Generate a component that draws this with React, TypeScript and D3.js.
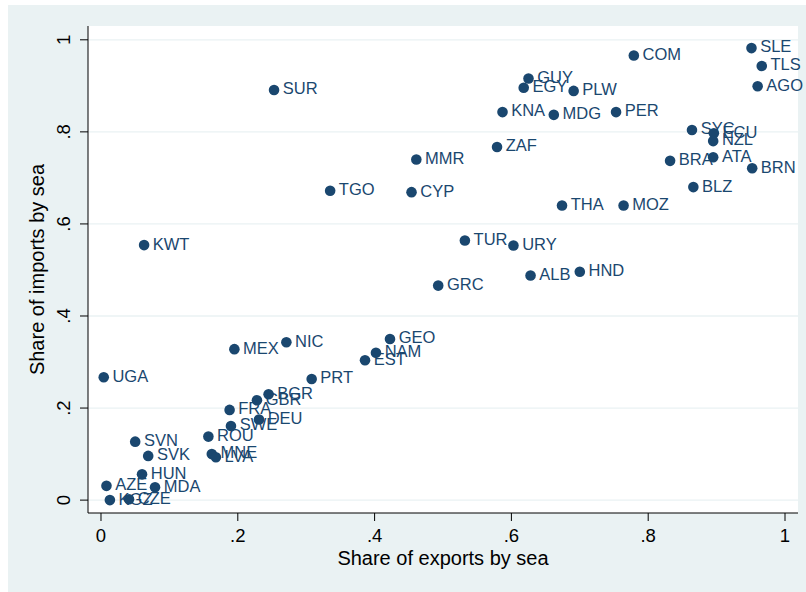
import React from "react";
import * as d3 from "d3";

const countries = ["SUR","TGO","KWT","MMR","CYP","COM","SLE","TLS","AGO","GUY","EGY","PLW","KNA","MDG","PER","SYC","ECU","NZL","ZAF","BRA","ATA","BRN","BLZ","THA","MOZ","TUR","URY","ALB","HND","GRC","UGA","MEX","NIC","PRT","BGR","GBR","FRA","DEU","SWE","ROU","SVN","SVK","MNE","LVA","HUN","AZE","MDA","KGZ","CZE","GEO","NAM","EST"];
const exportShare = [0.253,0.335,0.063,0.461,0.454,0.779,0.951,0.966,0.960,0.625,0.618,0.691,0.587,0.662,0.753,0.864,0.896,0.895,0.579,0.832,0.895,0.952,0.866,0.674,0.764,0.532,0.603,0.628,0.700,0.493,0.004,0.195,0.271,0.308,0.245,0.228,0.188,0.231,0.190,0.157,0.050,0.069,0.162,0.168,0.060,0.008,0.079,0.013,0.041,0.4225,0.402,0.386];
const importShare = [0.891,0.672,0.554,0.740,0.669,0.966,0.982,0.943,0.899,0.916,0.896,0.889,0.843,0.837,0.843,0.804,0.797,0.780,0.767,0.737,0.745,0.721,0.680,0.640,0.640,0.564,0.553,0.488,0.496,0.466,0.267,0.328,0.343,0.263,0.230,0.217,0.196,0.175,0.161,0.138,0.127,0.096,0.100,0.093,0.056,0.031,0.028,0.000,0.002,0.350,0.320,0.304];
const tickValues = [0, 0.2, 0.4, 0.6, 0.8, 1];
const xTitle = "Share of exports by sea";
const yTitle = "Share of imports by sea";

const fmt = (v: number) => (v === 0 ? "0" : v === 1 ? "1" : "." + Math.round(v * 10));

export default function App() {
  const W = 806, H = 592;
  const L = 88, R = 798, T = 26, B = 513;
  const x = d3.scaleLinear().domain([-0.019, 1.019]).range([L, R]);
  const y = d3.scaleLinear().domain([-0.028, 1.030]).range([B, T]);
  const col = "#1a476f";
  const font = "'Liberation Sans', Arial, sans-serif";
  return (
    <svg width={W} height={H} style={{ position: "absolute", left: 0, top: 0 }} fontFamily={font}>
      <rect x={0} y={0} width={W} height={H} fill="#ffffff" />
      <rect x={8} y={5} width={W - 8} height={H - 5} fill="#eaf2f3" />
      <rect x={L} y={T} width={R - L} height={B - T} fill="#ffffff" />
      {tickValues.map((t) => (
        <line key={"g" + t} x1={L} x2={R} y1={y(t)} y2={y(t)} stroke="#eaf2f3" strokeWidth={1.3} />
      ))}
      <line x1={L} x2={L} y1={T} y2={B} stroke="#000" strokeWidth={1} />
      <line x1={L} x2={R} y1={B} y2={B} stroke="#000" strokeWidth={1} />
      {tickValues.map((t) => (
        <g key={"yt" + t}>
          <line x1={L - 8} x2={L} y1={y(t)} y2={y(t)} stroke="#000" strokeWidth={1} />
          <text
            transform={`translate(70,${y(t)}) rotate(-90)`}
            textAnchor="middle"
            fontSize={18.5}
            fill="#000"
          >
            {fmt(t)}
          </text>
        </g>
      ))}
      {tickValues.map((t) => (
        <g key={"xt" + t}>
          <line x1={x(t)} x2={x(t)} y1={B} y2={B + 8} stroke="#000" strokeWidth={1} />
          <text x={x(t)} y={542} textAnchor="middle" fontSize={18.5} fill="#000">
            {fmt(t)}
          </text>
        </g>
      ))}
      <text x={(L + R) / 2} y={565} textAnchor="middle" fontSize={20} fill="#000">
        {xTitle}
      </text>
      <text
        transform={`translate(44,${(T + B) / 2}) rotate(-90)`}
        textAnchor="middle"
        fontSize={20}
        fill="#000"
      >
        {yTitle}
      </text>
      {countries.map((c, i) => (
        <g key={c}>
          <circle cx={x(exportShare[i])} cy={y(importShare[i])} r={5.3} fill={col} />
          <text x={x(exportShare[i]) + 8.7} y={y(importShare[i]) + 4.4} fontSize={16.5} fill={col}>
            {c}
          </text>
        </g>
      ))}
    </svg>
  );
}
